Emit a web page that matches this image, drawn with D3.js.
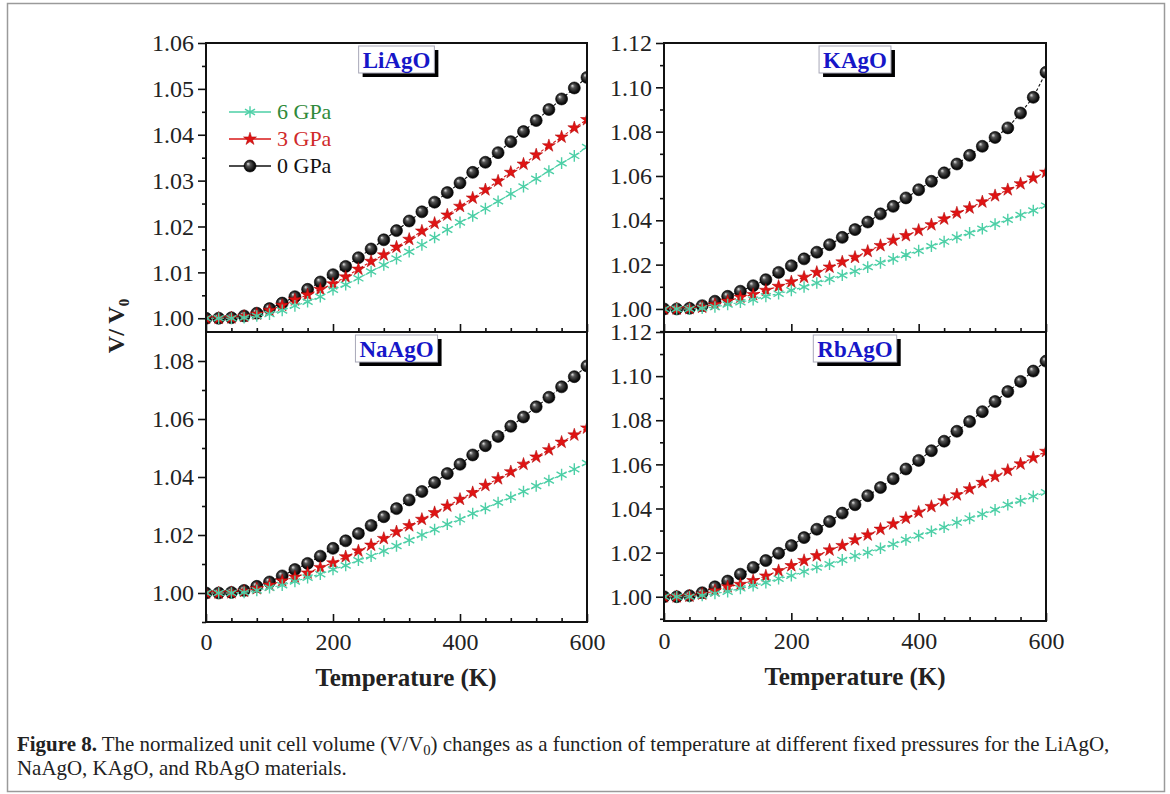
<!DOCTYPE html>
<html>
<head>
<meta charset="utf-8">
<script src="https://cdn.jsdelivr.net/npm/d3@7"></script>
<style>
body { margin: 0; background: #fff; }
svg { display: block; font-family: "Liberation Serif", "Times New Roman", serif; }
</style>
</head>
<body>
<svg id="chart" width="1170" height="794"></svg>
<script>
// temperature grid (K)
const temperature = [0,20,40,60,80,100,120,140,160,180,200,220,240,260,280,300,320,340,360,380,400,420,440,460,480,500,520,540,560,580,600];

// V/V0
const liAgO0 = [1.0000,1.0000,1.0001,1.0005,1.0011,1.0021,1.0033,1.0047,1.0063,1.0079,1.0095,1.0113,1.0132,1.0151,1.0171,1.0191,1.0212,1.0232,1.0253,1.0274,1.0295,1.0318,1.0340,1.0361,1.0385,1.0407,1.0431,1.0455,1.0478,1.0502,1.0525];
const liAgO3 = [1.0000,1.0000,1.0001,1.0004,1.0009,1.0017,1.0028,1.0040,1.0051,1.0063,1.0075,1.0090,1.0107,1.0124,1.0138,1.0155,1.0172,1.0190,1.0207,1.0225,1.0244,1.0262,1.0280,1.0299,1.0318,1.0336,1.0356,1.0376,1.0395,1.0415,1.0433];
const liAgO6 = [1.0000,1.0000,1.0000,1.0001,1.0005,1.0009,1.0017,1.0027,1.0036,1.0047,1.0062,1.0073,1.0087,1.0102,1.0116,1.0130,1.0145,1.0160,1.0176,1.0193,1.0209,1.0223,1.0239,1.0255,1.0271,1.0287,1.0304,1.0321,1.0338,1.0354,1.0373];

const kAgO0 = [1.0000,1.0000,1.0003,1.0015,1.0035,1.0057,1.0080,1.0105,1.0132,1.0165,1.0195,1.0226,1.0256,1.0290,1.0323,1.0358,1.0392,1.0429,1.0463,1.0501,1.0538,1.0576,1.0614,1.0654,1.0693,1.0734,1.0774,1.0817,1.0884,1.0955,1.1068];
const kAgO3 = [1.0000,1.0000,1.0002,1.0008,1.0020,1.0035,1.0053,1.0065,1.0084,1.0102,1.0122,1.0143,1.0165,1.0189,1.0212,1.0233,1.0260,1.0286,1.0310,1.0331,1.0355,1.0380,1.0406,1.0433,1.0456,1.0483,1.0511,1.0538,1.0565,1.0591,1.0617];
const kAgO6 = [1.0000,1.0000,1.0000,1.0003,1.0009,1.0020,1.0030,1.0042,1.0057,1.0069,1.0084,1.0099,1.0117,1.0135,1.0152,1.0170,1.0189,1.0208,1.0226,1.0244,1.0263,1.0283,1.0304,1.0323,1.0343,1.0362,1.0383,1.0403,1.0424,1.0444,1.0466];

const naAgO0 = [1.0000,1.0000,1.0002,1.0009,1.0023,1.0038,1.0059,1.0081,1.0102,1.0127,1.0154,1.0180,1.0205,1.0233,1.0263,1.0291,1.0321,1.0350,1.0381,1.0412,1.0444,1.0476,1.0508,1.0540,1.0575,1.0607,1.0642,1.0675,1.0711,1.0746,1.0783];
const naAgO3 = [1.0000,1.0000,1.0001,1.0006,1.0015,1.0027,1.0042,1.0055,1.0069,1.0088,1.0104,1.0125,1.0145,1.0165,1.0188,1.0211,1.0232,1.0254,1.0277,1.0300,1.0323,1.0346,1.0371,1.0394,1.0418,1.0444,1.0469,1.0494,1.0520,1.0545,1.0569];
const naAgO6 = [1.0000,1.0000,1.0000,1.0002,1.0009,1.0018,1.0027,1.0040,1.0053,1.0065,1.0081,1.0095,1.0113,1.0127,1.0145,1.0162,1.0182,1.0200,1.0219,1.0237,1.0254,1.0274,1.0292,1.0312,1.0330,1.0350,1.0369,1.0388,1.0408,1.0427,1.0448];

const rbAgO0 = [1.0000,1.0000,1.0005,1.0018,1.0045,1.0071,1.0102,1.0133,1.0164,1.0197,1.0232,1.0268,1.0306,1.0341,1.0379,1.0417,1.0458,1.0495,1.0535,1.0579,1.0618,1.0662,1.0705,1.0750,1.0794,1.0839,1.0885,1.0930,1.0976,1.1023,1.1068];
const rbAgO3 = [1.0000,1.0000,1.0003,1.0012,1.0027,1.0045,1.0056,1.0073,1.0094,1.0118,1.0141,1.0164,1.0186,1.0212,1.0232,1.0258,1.0280,1.0306,1.0330,1.0356,1.0383,1.0409,1.0435,1.0462,1.0489,1.0518,1.0545,1.0573,1.0602,1.0630,1.0659];
const rbAgO6 = [1.0000,1.0000,1.0000,1.0006,1.0015,1.0023,1.0038,1.0050,1.0064,1.0082,1.0095,1.0114,1.0133,1.0147,1.0167,1.0185,1.0200,1.0220,1.0238,1.0258,1.0277,1.0297,1.0315,1.0336,1.0355,1.0374,1.0394,1.0417,1.0435,1.0455,1.0473];

const pressureLabels = ["6 GPa", "3 GPa", "0 GPa"];
const xTicks = [0, 200, 400, 600];
const xMinorTicks = [40, 80, 120, 160, 240, 280, 320, 360, 440, 480, 520, 560];
const yTicksLi = [1.00, 1.01, 1.02, 1.03, 1.04, 1.05, 1.06];
const yTicksNa = [1.00, 1.02, 1.04, 1.06, 1.08];
const yTicksK = [1.00, 1.02, 1.04, 1.06, 1.08, 1.10, 1.12];
const yTicksRb = [1.00, 1.02, 1.04, 1.06, 1.08, 1.10, 1.12];

const captionBold = "Figure 8.";
const captionLine1 = " The normalized unit cell volume (V/V";
const captionLine1b = ") changes as a function of temperature at different fixed pressures for the LiAgO,";
const captionLine2 = "NaAgO, KAgO, and RbAgO materials.";

// layout
const colLeft = {x0: 206, x1: 587, labelX: 406};
const colRight = {x0: 664, x1: 1046, labelX: 855};
const panels = [
  {name: "LiAgO", col: colLeft, y0: 43, y1: 332, domain: [0.997, 1.06], ticks: yTicksLi, series: [liAgO0, liAgO3, liAgO6], bottom: false, legend: true},
  {name: "KAgO", col: colRight, y0: 43, y1: 332, domain: [0.9896, 1.12], ticks: yTicksK, series: [kAgO0, kAgO3, kAgO6], bottom: false},
  {name: "NaAgO", col: colLeft, y0: 332, y1: 622, domain: [0.99, 1.09], ticks: yTicksNa, series: [naAgO0, naAgO3, naAgO6], bottom: true},
  {name: "RbAgO", col: colRight, y0: 332, y1: 621, domain: [0.989, 1.12], ticks: yTicksRb, series: [rbAgO0, rbAgO3, rbAgO6], bottom: true}
];

// style per pressure: index 0 = 0 GPa, 1 = 3 GPa, 2 = 6 GPa
const lineColor = ["#111", "#d81818", "#4ccfa6"];
const textColor = {"6 GPa": "#2f8a3a", "3 GPa": "#d02a2a", "0 GPa": "#111"};

const svg = d3.select("#chart");
const defs = svg.append("defs");

let grad = defs.append("radialGradient").attr("id", "sphere")
  .attr("cx", "50%").attr("cy", "50%").attr("r", "55%")
  .attr("fx", "32%").attr("fy", "30%");
grad.append("stop").attr("offset", "0%").attr("stop-color", "#e8e8e8");
grad.append("stop").attr("offset", "30%").attr("stop-color", "#555");
grad.append("stop").attr("offset", "75%").attr("stop-color", "#111");
grad.append("stop").attr("offset", "100%").attr("stop-color", "#000");

// outer frame
svg.append("rect")
  .attr("x", 7.5).attr("y", 3.5).attr("width", 1157).attr("height", 788)
  .attr("fill", "none").attr("stroke", "#9a9a9a").attr("stroke-width", 1.5);

const starPath = d3.symbol().type(d3.symbolStar).size(52)();
const asteriskPath = d3.symbol().type(d3.symbolAsterisk).size(95)();

function drawMarker(sel, k){
  if (k === 0){
    sel.append("circle").attr("r", 6).attr("fill", "url(#sphere)")
      .attr("stroke", "#000").attr("stroke-width", 0.6);
  } else if (k === 1){
    sel.append("path").attr("d", starPath).attr("fill", "#e01414")
      .attr("stroke", "#a00").attr("stroke-width", 0.5);
  } else {
    sel.append("path").attr("d", asteriskPath).attr("fill", "none")
      .attr("stroke", lineColor[2]).attr("stroke-width", 1.4);
  }
}

function styleTicks(a){
  a.select(".domain").remove();
  a.selectAll(".tick line").attr("stroke", "#111").attr("stroke-width", 1.6);
  a.selectAll("text").attr("font-size", 24).attr("fill", "#222")
    .attr("font-family", "Liberation Serif, serif");
}

panels.forEach(function(p, i){
  let x = d3.scaleLinear().domain([0, 600]).range([p.col.x0, p.col.x1]);
  let y = d3.scaleLinear().domain(p.domain).range([p.y1, p.y0]);

  let clipId = "clip" + i;
  defs.append("clipPath").attr("id", clipId)
    .append("rect").attr("x", p.col.x0).attr("y", p.y0)
    .attr("width", p.col.x1 - p.col.x0).attr("height", p.y1 - p.y0);

  let g = svg.append("g").attr("class", "panel");

  // y axis, major + minor ticks outward
  let step = p.ticks[1] - p.ticks[0];
  let minor = d3.pairs(p.ticks).map(e => (e[0] + e[1]) / 2);
  if (p.domain[0] <= p.ticks[0] - step / 2 + 1e-6) minor.unshift(p.ticks[0] - step / 2);
  g.append("g")
    .attr("transform", `translate(${p.col.x0},0)`)
    .call(d3.axisLeft(y).tickValues(minor).tickSize(4).tickFormat(""))
    .call(styleTicks);
  g.append("g")
    .attr("transform", `translate(${p.col.x0},0)`)
    .call(d3.axisLeft(y).tickValues(p.ticks).tickSize(8).tickPadding(4).tickFormat(d3.format(".2f")))
    .call(styleTicks);

  // x axis, ticks inward
  g.append("g")
    .attr("transform", `translate(0,${p.y1})`)
    .call(d3.axisBottom(x).tickValues(xMinorTicks).tickSize(-4).tickFormat(""))
    .call(styleTicks);
  g.append("g")
    .attr("transform", `translate(0,${p.y1})`)
    .call(d3.axisBottom(x).tickValues(xTicks).tickSize(-8).tickPadding(11).tickFormat(p.bottom ? d3.format("d") : ""))
    .call(styleTicks);

  // series: 0 GPa first, 6 GPa on top
  let plot = g.append("g").attr("clip-path", `url(#${clipId})`);
  const line = d3.line().x((d, j) => x(temperature[j])).y(d => y(d));
  p.series.forEach(function(vals, k){
    plot.append("path")
      .attr("d", line(vals))
      .attr("fill", "none")
      .attr("stroke", lineColor[k])
      .attr("stroke-width", 1.1)
      .attr("stroke-dasharray", "3,2");
    plot.append("g").selectAll("g")
      .data(vals)
      .join("g")
      .attr("transform", (d, j) => `translate(${x(temperature[j])},${y(d)})`)
      .each(function(){ drawMarker(d3.select(this), k); });
  });

  // frame
  g.append("rect")
    .attr("x", p.col.x0).attr("y", p.y0)
    .attr("width", p.col.x1 - p.col.x0).attr("height", p.y1 - p.y0)
    .attr("fill", "none").attr("stroke", "#111").attr("stroke-width", 2);

  // compound name box with drop shadow
  let cx = (p.col.x0 + p.col.x1) / 2;
  let ty = p.y0 + 25;
  let tg = g.append("g");
  let label = tg.append("text")
    .attr("x", cx).attr("y", ty)
    .attr("text-anchor", "middle")
    .attr("font-size", 23).attr("font-weight", "bold")
    .attr("fill", "#1616c8")
    .text(p.name);
  let bw = label.node().getComputedTextLength() + 8, bh = 27;
  tg.insert("rect", "text")
    .attr("x", cx - bw / 2 + 4).attr("y", ty - 22 + 4)
    .attr("width", bw).attr("height", bh).attr("fill", "#000");
  tg.insert("rect", "text")
    .attr("x", cx - bw / 2).attr("y", ty - 22)
    .attr("width", bw).attr("height", bh)
    .attr("fill", "#fff").attr("stroke", "#a8a8b8").attr("stroke-width", 1);

  if (p.bottom){
    g.append("text")
      .attr("x", p.col.labelX).attr("y", p.y1 + 64)
      .attr("text-anchor", "middle")
      .attr("font-size", 25).attr("font-weight", "bold").attr("fill", "#222")
      .text("Temperature (K)");
  }

  if (p.legend){
    let leg = g.append("g");
    let rows = [2, 1, 0];
    rows.forEach(function(k, r){
      let ly = 112 + r * 27;
      leg.append("line")
        .attr("x1", 229).attr("x2", 271).attr("y1", ly).attr("y2", ly)
        .attr("stroke", lineColor[k]).attr("stroke-width", 1.6);
      let m = leg.append("g").attr("transform", `translate(250,${ly})`);
      drawMarker(m, k);
      leg.append("text")
        .attr("x", 277).attr("y", ly + 7)
        .attr("font-size", 22)
        .attr("fill", textColor[pressureLabels[r]])
        .text(pressureLabels[r]);
    });
  }
});

// y axis title
let yt = svg.append("text")
  .attr("transform", "translate(124,326) rotate(-90)")
  .attr("text-anchor", "middle")
  .attr("font-size", 24).attr("font-weight", "bold").attr("fill", "#222");
yt.append("tspan").text("V/ V");
yt.append("tspan").attr("font-size", 15).attr("dy", 5).text("0");

// caption, sized so the first line spans the frame like the original
let cap = svg.append("text")
  .attr("x", 17).attr("y", 751)
  .attr("font-size", 17.5).attr("fill", "#222");
cap.append("tspan").attr("font-weight", "bold").text(captionBold);
cap.append("tspan").text(captionLine1);
let sub = cap.append("tspan").attr("dy", 4).text("0");
cap.append("tspan").attr("dy", -4).text(captionLine1b);
let capSize = 17.5 * 1096 / cap.node().getComputedTextLength();
cap.attr("font-size", capSize);
sub.attr("font-size", capSize * 0.7);
svg.append("text")
  .attr("x", 17).attr("y", 775)
  .attr("font-size", capSize).attr("fill", "#222")
  .text(captionLine2);
</script>
</body>
</html>
